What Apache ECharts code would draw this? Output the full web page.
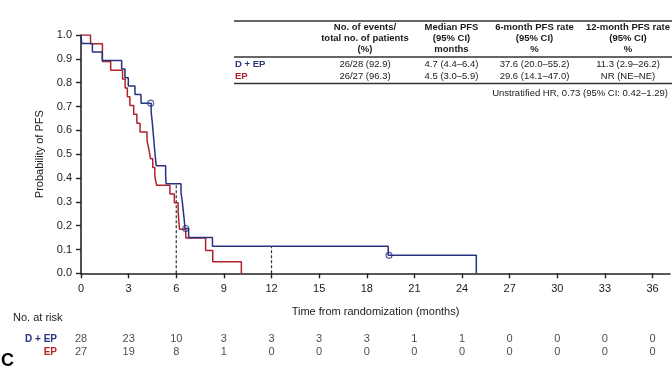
<!DOCTYPE html>
<html>
<head>
<meta charset="utf-8">
<script src="https://cdn.jsdelivr.net/npm/echarts@6/dist/echarts.min.js"></script>
<style>
html,body{margin:0;padding:0;background:#fff;}
#chart{width:672px;height:371px;}
</style>
</head>
<body>
<div id="chart"></div>
<script>
// ---------- Data ----------
const xTicks = [0, 3, 6, 9, 12, 15, 18, 21, 24, 27, 30, 33, 36];

const dEpTimes = [0, 0.05, 0.72, 1.34, 2.56, 2.77, 2.98, 3.4, 3.78, 4.42, 4.48, 4.53, 4.58, 4.63, 4.68, 4.74, 5.33, 5.36, 6.3, 6.38, 6.44, 6.5, 6.55, 6.78, 8.28, 19.35, 24.9];
const dEpSurv  = [1, 0.964, 0.929, 0.893, 0.857, 0.821, 0.786, 0.750, 0.714, 0.677, 0.639, 0.602, 0.564, 0.526, 0.489, 0.451, 0.414, 0.376, 0.338, 0.301, 0.263, 0.226, 0.188, 0.150, 0.113, 0.0753, 0];
const dEpCensorTimes = [4.39, 6.6, 19.4];
const dEpCensorSurv  = [0.714, 0.188, 0.0753];

const epTimes = [0, 0.6, 1.35, 1.87, 2.62, 2.78, 2.92, 3.08, 3.32, 3.52, 3.72, 4.16, 4.28, 4.38, 4.52, 4.65, 4.76, 5.6, 5.88, 6.12, 6.16, 6.2, 6.6, 7.85, 8.3, 10.1];
const epSurv  = [1, 0.963, 0.889, 0.852, 0.815, 0.778, 0.741, 0.704, 0.667, 0.630, 0.593, 0.556, 0.519, 0.481, 0.444, 0.407, 0.370, 0.333, 0.296, 0.259, 0.222, 0.185, 0.148, 0.096, 0.048, 0];

const landmarkTimes = [6, 12];
const landmarkRates = [0.376, 0.113];

const riskArms = ['D + EP', 'EP'];
const riskDEp = [28, 23, 10, 3, 3, 3, 3, 1, 1, 0, 0, 0, 0];
const riskEp  = [27, 19, 8, 1, 0, 0, 0, 0, 0, 0, 0, 0, 0];

const tableHeaders = [
  ['No. of events/', 'total no. of patients', '(%)'],
  ['Median PFS', '(95% CI)', 'months'],
  ['6-month PFS rate', '(95% CI)', '%'],
  ['12-month PFS rate', '(95% CI)', '%']
];
const tableRowDEp = ['26/28 (92.9)', '4.7 (4.4\u20136.4)', '37.6 (20.0\u201355.2)', '11.3 (2.9\u201326.2)'];
const tableRowEp  = ['26/27 (96.3)', '4.5 (3.0\u20135.9)', '29.6 (14.1\u201347.0)', 'NR (NE\u2013NE)'];
const hrNote = 'Unstratified HR, 0.73 (95% CI: 0.42\u20131.29)';

// ---------- Styles ----------
const NAVY = '#28337f';
const RED = '#b0232b';
const INK = '#1a1a1a';
const FONT = '"Liberation Sans", Arial, sans-serif';

const chart = echarts.init(document.getElementById('chart'), null, {renderer: 'canvas'});

const zip = (a, b) => a.map((v, i) => [v, b[i]]);

const series = [];
landmarkTimes.forEach((t, i) => {
  series.push({
    type: 'line', xAxisIndex: 0, yAxisIndex: 0, silent: true,
    data: [[t, 0], [t, landmarkRates[i]]],
    symbol: 'none', lineStyle: {color: '#333', width: 1.2, type: [3, 2]}, z: 1
  });
});
series.push({
  name: 'EP', type: 'line', step: 'end', xAxisIndex: 0, yAxisIndex: 0,
  data: zip(epTimes, epSurv), symbol: 'none',
  lineStyle: {color: RED, width: 1.5}, z: 2
});
series.push({
  name: 'D + EP', type: 'line', step: 'end', xAxisIndex: 0, yAxisIndex: 0,
  data: zip(dEpTimes, dEpSurv), symbol: 'none',
  lineStyle: {color: NAVY, width: 1.5}, z: 3
});
series.push({
  type: 'scatter', xAxisIndex: 0, yAxisIndex: 0,
  data: zip(dEpCensorTimes, dEpCensorSurv),
  symbol: 'circle', symbolSize: 6,
  itemStyle: {color: 'rgba(255,255,255,0)', borderColor: NAVY, borderWidth: 1.1}, z: 4
});
// risk table
const riskData = [];
xTicks.forEach((t, i) => {
  riskData.push([t, riskArms[0], riskDEp[i]]);
  riskData.push([t, riskArms[1], riskEp[i]]);
});
series.push({
  type: 'scatter', xAxisIndex: 1, yAxisIndex: 1,
  data: riskData, symbolSize: 1, itemStyle: {color: 'rgba(0,0,0,0)'},
  label: {show: true, position: 'inside', formatter: p => String(p.value[2]),
          color: INK, fontSize: 11, fontFamily: FONT},
  silent: true
});

// ---------- Table graphics ----------
const colCenters = [365, 451.5, 534.5, 628];
const headerY = [27, 38, 49.3];
const graphic = [];
const hline = (y, w) => ({type: 'line', shape: {x1: 234, y1: y, x2: 672, y2: y}, style: {stroke: '#333', lineWidth: w}});
graphic.push(hline(21, 1.6), hline(57, 1.3), hline(83.5, 1.3));
tableHeaders.forEach((lines, c) => {
  lines.forEach((txt, r) => {
    graphic.push({type: 'text', x: colCenters[c], y: headerY[r],
      style: {text: txt, align: 'center', verticalAlign: 'middle', fill: INK,
              font: 'bold 9.5px ' + FONT}});
  });
});
graphic.push({type: 'text', x: 235, y: 64.5, style: {text: riskArms[0], align: 'left', verticalAlign: 'middle', fill: NAVY, font: 'bold 9.5px ' + FONT}});
graphic.push({type: 'text', x: 235, y: 76.8, style: {text: riskArms[1], align: 'left', verticalAlign: 'middle', fill: RED, font: 'bold 9.5px ' + FONT}});
[tableRowDEp, tableRowEp].forEach((row, r) => {
  row.forEach((txt, c) => {
    graphic.push({type: 'text', x: colCenters[c], y: r === 0 ? 64.5 : 76.8,
      style: {text: txt, align: 'center', verticalAlign: 'middle', fill: INK, font: '9.5px ' + FONT}});
  });
});
graphic.push({type: 'text', x: 668, y: 93.5, style: {text: hrNote, align: 'right', verticalAlign: 'middle', fill: INK, font: '9.5px ' + FONT}});
graphic.push({type: 'text', x: 13, y: 318, style: {text: 'No. at risk', align: 'left', verticalAlign: 'middle', fill: INK, font: '11px ' + FONT}});
graphic.push({type: 'text', x: 1, y: 361, style: {text: 'C', align: 'left', verticalAlign: 'middle', fill: '#000', font: 'bold 18px ' + FONT}});

const option = {
  animation: false,
  backgroundColor: '#fff',
  textStyle: {fontFamily: FONT},
  grid: [
    {left: 81, right: 2, top: 35, bottom: 97.7, containLabel: false},
    {left: 81, right: 2, top: 332.5, height: 26, containLabel: false}
  ],
  xAxis: [
    {
      type: 'value', gridIndex: 0, min: 0, max: 37.1,
      name: 'Time from randomization (months)', nameLocation: 'middle', nameGap: 33,
      nameTextStyle: {color: INK, fontSize: 11, fontFamily: FONT},
      splitLine: {show: false},
      axisLine: {show: true, lineStyle: {color: '#222', width: 1.6}},
      axisTick: {show: true, length: 5, customValues: xTicks, lineStyle: {color: '#222', width: 1.4}},
      axisLabel: {customValues: xTicks, margin: 10, color: INK, fontSize: 11, fontFamily: FONT}
    },
    {
      type: 'value', gridIndex: 1, min: 0, max: 37.1, show: false
    }
  ],
  yAxis: [
    {
      type: 'value', gridIndex: 0, min: 0, max: 1, interval: 0.1,
      name: 'Probability of PFS', nameLocation: 'middle', nameGap: 36, nameRotate: 90,
      nameTextStyle: {color: INK, fontSize: 11, fontFamily: FONT},
      splitLine: {show: false},
      axisLine: {show: true, lineStyle: {color: '#222', width: 1.6}},
      axisTick: {show: true, length: 5, lineStyle: {color: '#222', width: 1.4}},
      axisLabel: {margin: 9, color: INK, fontSize: 11, fontFamily: FONT, formatter: v => v.toFixed(1)}
    },
    {
      type: 'category', gridIndex: 1, data: riskArms, inverse: true,
      axisLine: {show: false}, axisTick: {show: false}, splitLine: {show: false},
      axisLabel: {
        interval: 0, hideOverlap: false,
        margin: 24, fontSize: 10, fontFamily: FONT, fontWeight: 'bold',
        formatter: v => v === riskArms[0] ? '{a|' + v + '}' : '{b|' + v + '}',
        rich: {
          a: {color: NAVY, fontWeight: 'bold', fontSize: 10, fontFamily: FONT},
          b: {color: RED, fontWeight: 'bold', fontSize: 10, fontFamily: FONT}
        }
      }
    }
  ],
  graphic: graphic,
  series: series
};
chart.setOption(option);
</script>
</body>
</html>
